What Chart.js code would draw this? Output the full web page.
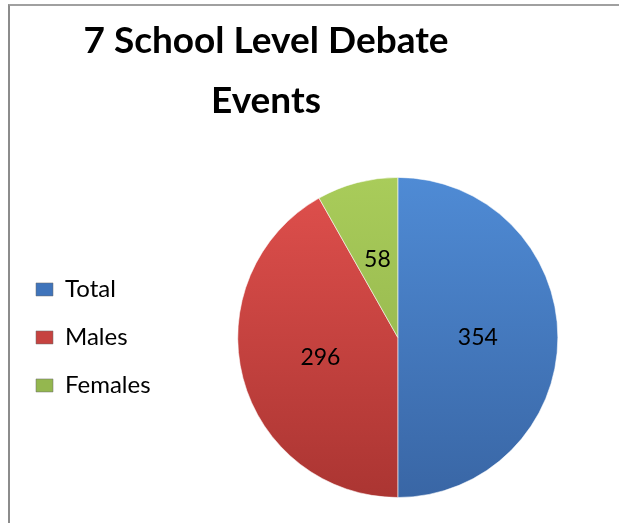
<!DOCTYPE html>
<html>
<head>
<meta charset="utf-8">
<script src="https://cdn.jsdelivr.net/npm/chart.js@4"></script>
<style>
  html, body { margin: 0; padding: 0; background: #ffffff; }
  #frame { position: absolute; left: 8px; top: 4px; width: 611px; height: 519px;
           border-left: 2px solid #8c8c8c; border-top: 2px solid #a0a0a0; box-sizing: border-box; }
  #wrap { position: absolute; left: 0; top: 0; width: 619px; height: 523px; }
</style>
</head>
<body>
<div id="frame"></div>
<div id="wrap"><canvas id="c" width="619" height="523"></canvas></div>
<script>
const titleLines = ["7 School Level Debate", "Events"];
const categories = ["Total", "Males", "Females"];
const values = [354, 296, 58];
const topColors = ["#4f8bd5", "#e0504d", "#a9cc5a"];
const bottomColors = ["#3966a5", "#ab3532", "#8cac48"];
const legendColors = ["#3f74bb", "#c64340", "#94b74f"];

const FONT = "Lato, 'Noto Sans', sans-serif";
const TITLE_CENTER_X = 266;
const LEGEND_EXTRA_WIDTH = 16;

function sliceFill(ctx) {
  const chart = ctx.chart;
  const area = chart.chartArea;
  if (!area) return topColors[ctx.dataIndex];
  const g = chart.ctx.createLinearGradient(0, area.top, 0, area.bottom);
  g.addColorStop(0, topColors[ctx.dataIndex]);
  g.addColorStop(1, bottomColors[ctx.dataIndex]);
  return g;
}

const layoutTweaks = {
  id: 'layoutTweaks',
  beforeLayout(chart) {
    const lg = chart.legend;
    if (lg && !lg._widened) {
      const origFit = lg.fit.bind(lg);
      lg.fit = function () {
        origFit();
        this.width += LEGEND_EXTRA_WIDTH;
      };
      lg._widened = true;
    }
  },
  afterLayout(chart) {
    const t = chart.titleBlock;
    if (!t) return;
    const half = (t.right - t.left) / 2;
    t.left = TITLE_CENTER_X - half;
    t.right = TITLE_CENTER_X + half;
  }
};

const valueLabels = {
  id: 'valueLabels',
  afterDatasetsDraw(chart) {
    const c = chart.ctx;
    const meta = chart.getDatasetMeta(0);
    c.save();
    c.font = "23px " + FONT;
    c.fillStyle = "#000000";
    c.textAlign = "center";
    c.textBaseline = "middle";
    meta.data.forEach((arc, i) => {
      const p = arc.getProps(['x', 'y', 'startAngle', 'endAngle', 'outerRadius']);
      const mid = (p.startAngle + p.endAngle) / 2;
      const r = p.outerRadius * 0.5;
      c.fillText(String(values[i]), p.x + Math.cos(mid) * r, p.y + Math.sin(mid) * r);
    });
    c.restore();
  }
};

new Chart(document.getElementById('c'), {
  type: 'pie',
  data: {
    labels: categories,
    datasets: [{
      data: values,
      backgroundColor: sliceFill,
      borderColor: "rgba(255,255,255,0.55)",
      borderWidth: 1
    }]
  },
  options: {
    responsive: false,
    animation: false,
    layout: { padding: { left: 12, right: 0, top: 0, bottom: 25 } },
    plugins: {
      title: {
        display: true,
        text: titleLines,
        color: "#000000",
        font: { family: FONT, size: 37, weight: 'bold', lineHeight: 1.62 },
        padding: { top: 11, bottom: 46 }
      },
      legend: {
        position: 'left',
        fullSize: false,
        labels: {
          color: "#000000",
          font: { family: FONT, size: 24 },
          boxWidth: 17,
          boxHeight: 13,
          padding: 24,
          generateLabels(chart) {
            return categories.map((name, i) => ({
              text: name,
              fillStyle: legendColors[i],
              strokeStyle: "#6a6a6a",
              lineWidth: 0.5,
              index: i,
              hidden: false
            }));
          }
        }
      },
      tooltip: { enabled: false }
    }
  },
  plugins: [layoutTweaks, valueLabels]
});
</script>
</body>
</html>
